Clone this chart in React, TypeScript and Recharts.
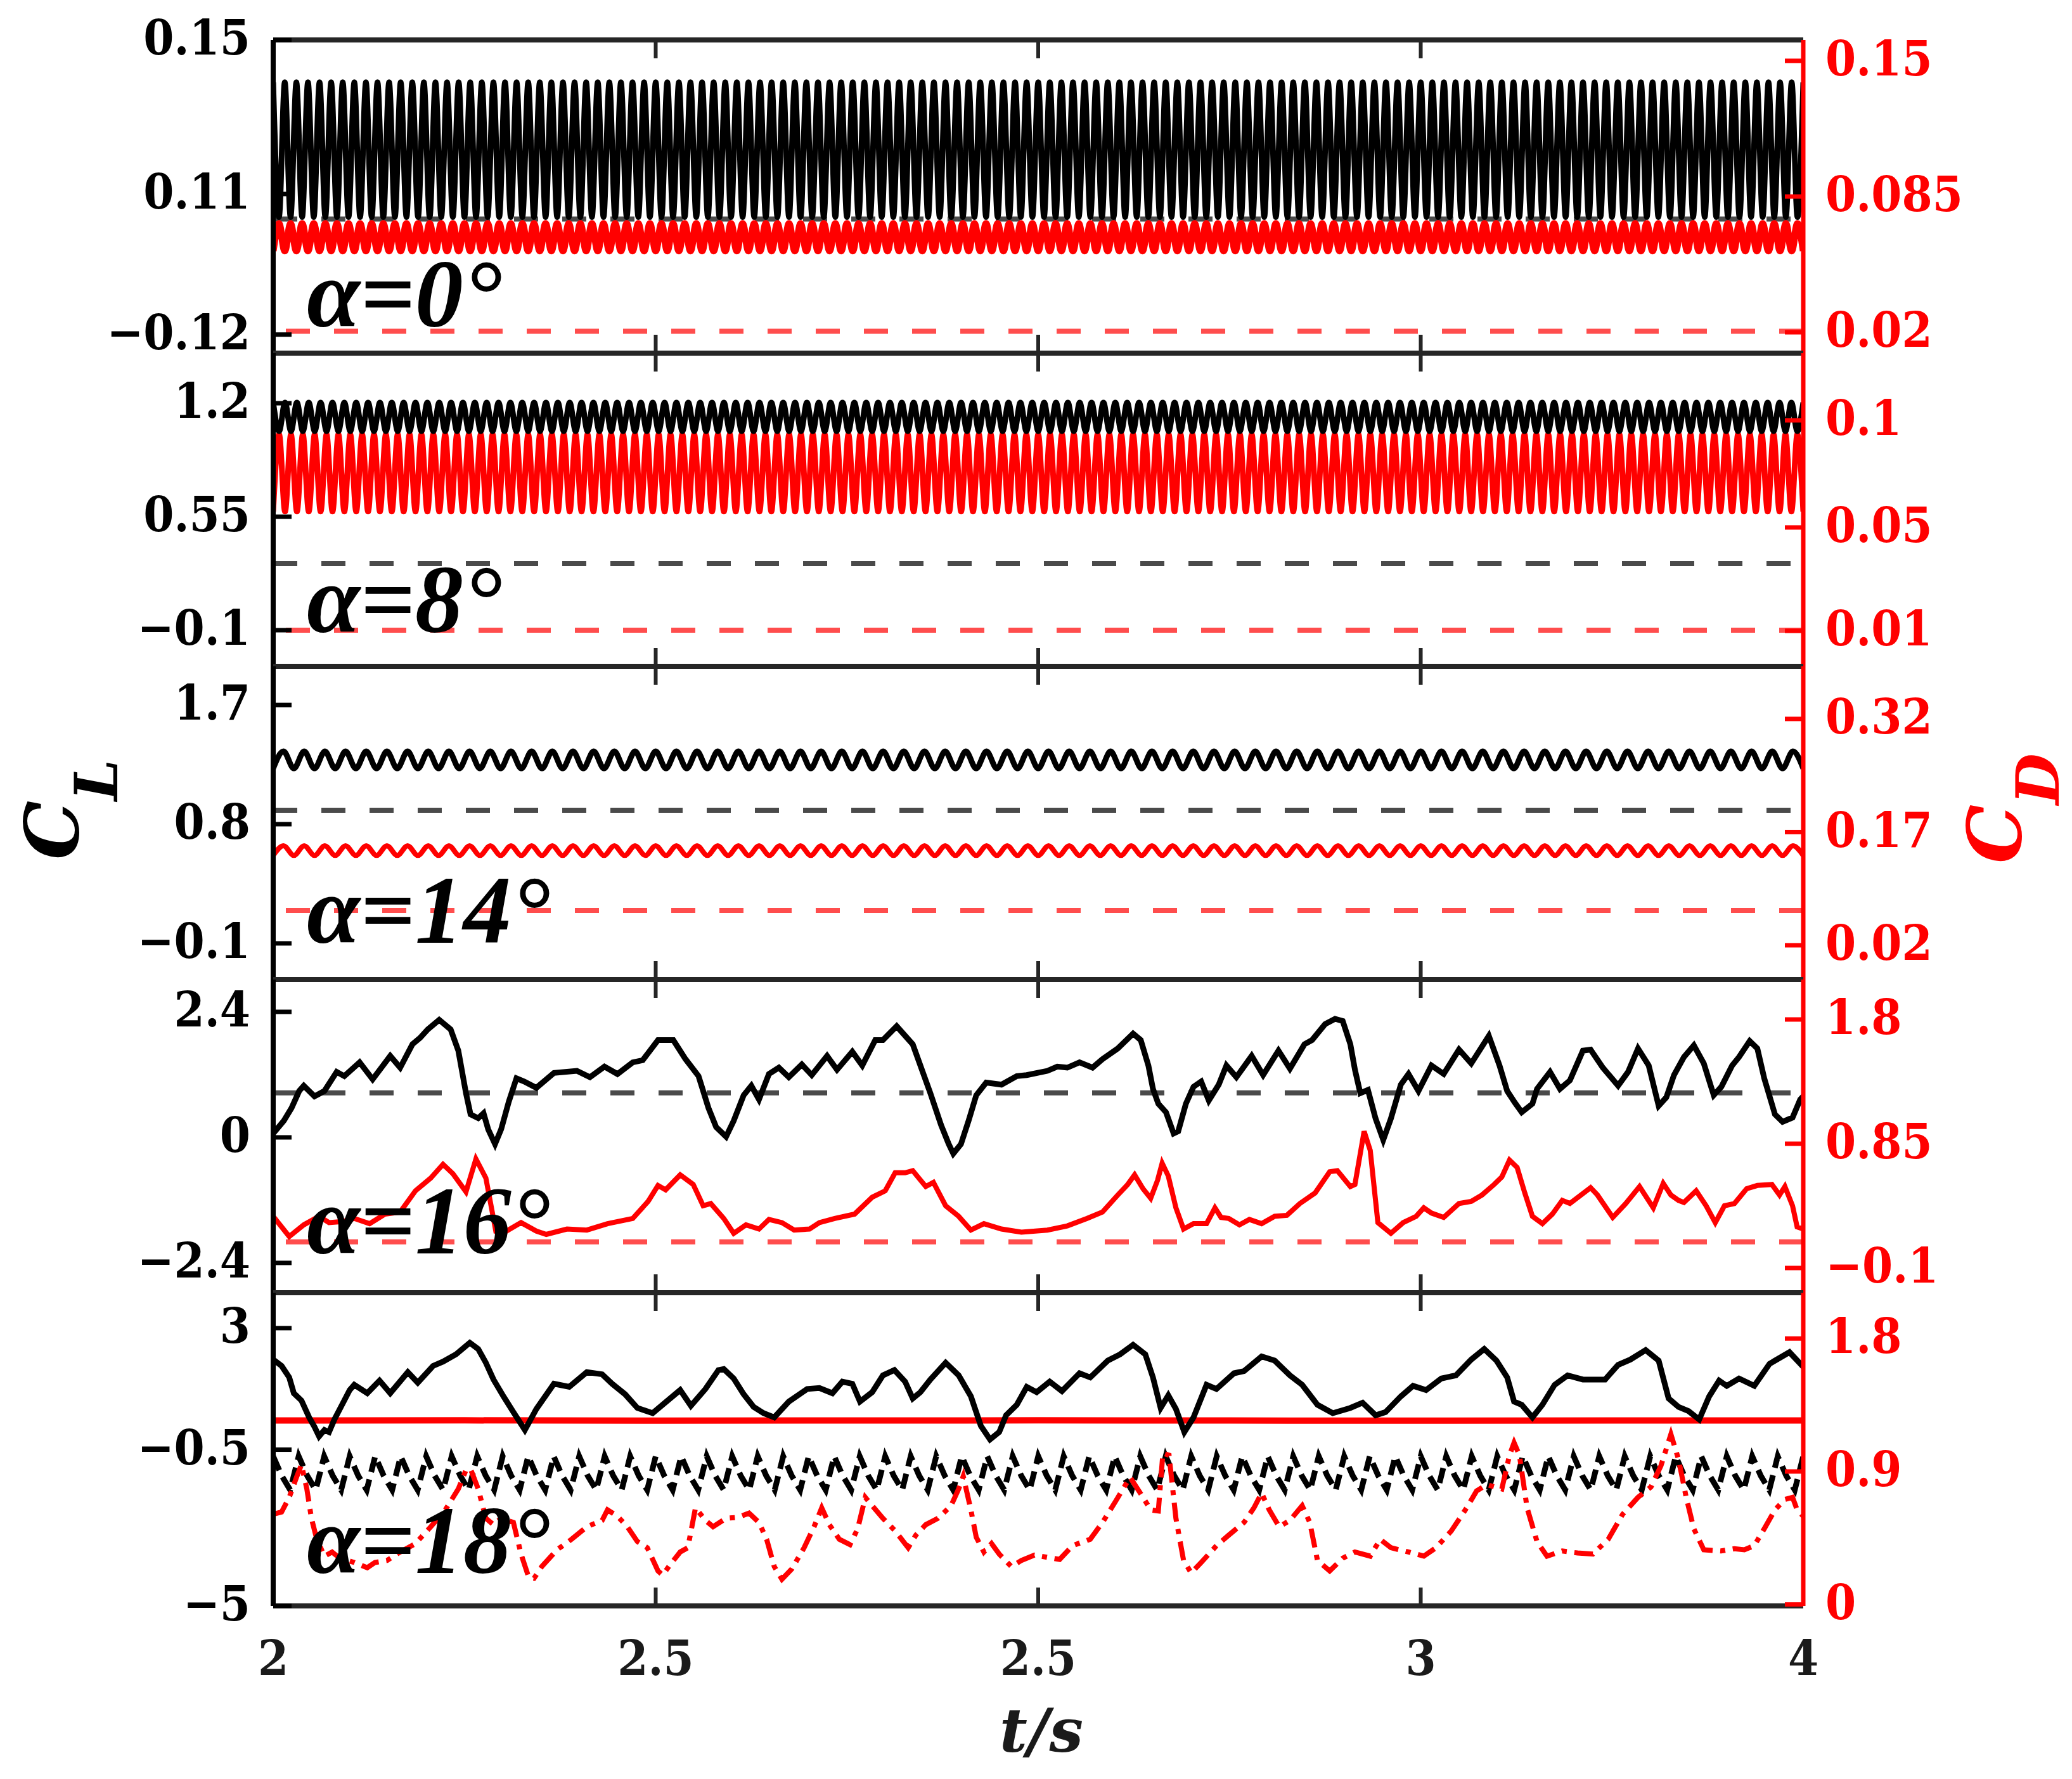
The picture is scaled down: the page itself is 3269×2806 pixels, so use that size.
import React from 'react';
import { LineChart, Line, XAxis, YAxis, ReferenceLine } from 'recharts';

// ---------------- shared x axis ----------------
const xDomain = [2, 4];
const xTicks = [2, 2.5, 3, 3.5, 4];
const xTickLabels = ['2', '2.5', '2.5', '3', '4'];

// ---------------- panel 1 : alpha = 0 ----------------
const p1LeftDomain = [0.06868, 0.15];
const p1LeftTicks = [0.15, 0.11, 0.0735];
const p1LeftLabels = ['0.15', '0.11', '\u22120.12'];
const p1RightDomain = [0.01, 0.16];
const p1RightTicks = [0.15, 0.085, 0.02];
const p1RightLabels = ['0.15', '0.085', '0.02'];
const p1LiftRef = 0.1035;
const p1DragRef = 0.0205;
const p1Lift = [
0.139,0.104,0.139,0.104,0.139,0.104,0.139,0.104,0.139,0.104,0.139,0.104,0.139,0.104,0.139,0.104,0.139,0.104,0.139,0.104,
0.139,0.104,0.139,0.104,0.139,0.104,0.139,0.104,0.139,0.104,0.139,0.104,0.139,0.104,0.139,0.104,0.139,0.104,0.139,0.104,
0.139,0.104,0.139,0.104,0.139,0.104,0.139,0.104,0.139,0.104,0.139,0.104,0.139,0.104,0.139,0.104,0.139,0.104,0.139,0.104,
0.139,0.104,0.139,0.104,0.139,0.104,0.139,0.104,0.139,0.104,0.139,0.104,0.139,0.104,0.139,0.104,0.139,0.104,0.139,0.104,
0.139,0.104,0.139,0.104,0.139,0.104,0.139,0.104,0.139,0.104,0.139,0.104,0.139,0.104,0.139,0.104,0.139,0.104,0.139,0.104,
0.139,0.104,0.139,0.104,0.139,0.104,0.139,0.104,0.139,0.104,0.139,0.104,0.139,0.104,0.139,0.104,0.139,0.104,0.139,0.104,
0.139,0.104,0.139,0.104,0.139,0.104,0.139,0.104,0.139,0.104,0.139,0.104,0.139,0.104,0.139,0.104,0.139,0.104,0.139,0.104,
0.139,0.104,0.139,0.104,0.139,0.104,0.139,0.104,0.139,0.104,0.139,0.104,0.139,0.104,0.139,0.104,0.139,0.104,0.139,0.104,
0.139,0.104,0.139,0.104,0.139,0.104,0.139,0.104,0.139,0.104,0.139,0.104,0.139,0.104,0.139,0.104,0.139,0.104,0.139,0.104,
0.139,0.104,0.139,0.104,0.139,0.104,0.139,0.104,0.139,0.104,0.139,0.104,0.139,0.104,0.139,0.104,0.139,0.104,0.139,0.104,
0.139,0.104,0.139,0.104,0.139,0.104,0.139,0.104,0.139,0.104,0.139,0.104,0.139,0.104,0.139,0.104,0.139,0.104,0.139,0.104,
0.139,0.104,0.139,0.104,0.139,0.104,0.139,0.104,0.139,0.104,0.139,0.104,0.139,0.104,0.139,0.104,0.139,0.104,0.139,0.104,
0.139,0.104,0.139,0.104,0.139,0.104,0.139,0.104,0.139,0.104,0.139,0.104,0.139,0.104,0.139,0.104,0.139,0.104,0.139,0.104,
0.139,0.104,0.139,0.104,0.139
];
const p1Drag = [
0.059,0.072,0.059,0.072,0.059,0.072,0.059,0.072,0.059,0.072,0.059,0.072,0.059,0.072,0.059,0.072,0.059,0.072,0.059,0.072,
0.059,0.072,0.059,0.072,0.059,0.072,0.059,0.072,0.059,0.072,0.059,0.072,0.059,0.072,0.059,0.072,0.059,0.072,0.059,0.072,
0.059,0.072,0.059,0.072,0.059,0.072,0.059,0.072,0.059,0.072,0.059,0.072,0.059,0.072,0.059,0.072,0.059,0.072,0.059,0.072,
0.059,0.072,0.059,0.072,0.059,0.072,0.059,0.072,0.059,0.072,0.059,0.072,0.059,0.072,0.059,0.072,0.059,0.072,0.059,0.072,
0.059,0.072,0.059,0.072,0.059,0.072,0.059,0.072,0.059,0.072,0.059,0.072,0.059,0.072,0.059,0.072,0.059,0.072,0.059,0.072,
0.059,0.072,0.059,0.072,0.059,0.072,0.059,0.072,0.059,0.072,0.059,0.072,0.059,0.072,0.059,0.072,0.059,0.072,0.059,0.072,
0.059,0.072,0.059,0.072,0.059,0.072,0.059,0.072,0.059,0.072,0.059,0.072,0.059,0.072,0.059,0.072,0.059,0.072,0.059,0.072,
0.059,0.072,0.059,0.072,0.059,0.072,0.059,0.072,0.059,0.072,0.059,0.072,0.059,0.072,0.059,0.072,0.059,0.072,0.059,0.072,
0.059,0.072,0.059,0.072,0.059,0.072,0.059,0.072,0.059,0.072,0.059,0.072,0.059,0.072,0.059,0.072,0.059,0.072,0.059,0.072,
0.059,0.072,0.059,0.072,0.059,0.072,0.059,0.072,0.059,0.072,0.059,0.072,0.059,0.072,0.059,0.072,0.059,0.072,0.059,0.072,
0.059,0.072,0.059,0.072,0.059,0.072,0.059,0.072,0.059,0.072,0.059,0.072,0.059,0.072,0.059,0.072,0.059,0.072,0.059,0.072,
0.059,0.072,0.059,0.072,0.059,0.072,0.059,0.072,0.059,0.072,0.059,0.072,0.059,0.072,0.059,0.072,0.059,0.072,0.059,0.072,
0.059,0.072,0.059,0.072,0.059,0.072,0.059,0.072,0.059,0.072,0.059,0.072,0.059,0.072,0.059,0.072,0.059,0.072,0.059,0.072,
0.059,0.072,0.059,0.072,0.059
];

// ---------------- panel 2 : alpha = 8 ----------------
const p2LeftDomain = [-0.307, 1.487];
const p2LeftTicks = [1.2, 0.55, -0.1];
const p2LeftLabels = ['1.2', '0.55', '\u22120.1'];
const p2RightDomain = [-0.00518, 0.12873];
const p2RightTicks = [0.1, 0.0542, 0.01];
const p2RightLabels = ['0.1', '0.05', '0.01'];
const p2LiftRef = 0.281;
const p2DragRef = 0.0103;
const p2Lift = [
1.204,1.04,1.204,1.04,1.204,1.04,1.204,1.04,1.204,1.04,1.204,1.04,1.204,1.04,1.204,1.04,1.204,1.04,1.204,1.04,
1.204,1.04,1.204,1.04,1.204,1.04,1.204,1.04,1.204,1.04,1.204,1.04,1.204,1.04,1.204,1.04,1.204,1.04,1.204,1.04,
1.204,1.04,1.204,1.04,1.204,1.04,1.204,1.04,1.204,1.04,1.204,1.04,1.204,1.04,1.204,1.04,1.204,1.04,1.204,1.04,
1.204,1.04,1.204,1.04,1.204,1.04,1.204,1.04,1.204,1.04,1.204,1.04,1.204,1.04,1.204,1.04,1.204,1.04,1.204,1.04,
1.204,1.04,1.204,1.04,1.204,1.04,1.204,1.04,1.204,1.04,1.204,1.04,1.204,1.04,1.204,1.04,1.204,1.04,1.204,1.04,
1.204,1.04,1.204,1.04,1.204,1.04,1.204,1.04,1.204,1.04,1.204,1.04,1.204,1.04,1.204,1.04,1.204,1.04,1.204,1.04,
1.204,1.04,1.204,1.04,1.204,1.04,1.204,1.04,1.204,1.04,1.204,1.04,1.204,1.04,1.204,1.04,1.204,1.04,1.204,1.04,
1.204,1.04,1.204,1.04,1.204,1.04,1.204,1.04,1.204,1.04,1.204,1.04,1.204,1.04,1.204,1.04,1.204,1.04,1.204,1.04,
1.204,1.04,1.204,1.04,1.204,1.04,1.204,1.04,1.204,1.04,1.204,1.04,1.204,1.04,1.204,1.04,1.204,1.04,1.204,1.04,
1.204,1.04,1.204,1.04,1.204,1.04,1.204,1.04,1.204,1.04,1.204,1.04,1.204,1.04,1.204,1.04,1.204,1.04,1.204,1.04,
1.204,1.04,1.204,1.04,1.204,1.04,1.204,1.04,1.204,1.04,1.204,1.04,1.204,1.04,1.204,1.04,1.204,1.04,1.204,1.04,
1.204,1.04,1.204,1.04,1.204,1.04,1.204,1.04,1.204,1.04,1.204,1.04,1.204,1.04,1.204,1.04,1.204,1.04,1.204,1.04,
1.204,1.04,1.204,1.04,1.204,1.04,1.204,1.04,1.204,1.04,1.204,1.04,1.204,1.04,1.204,1.04,1.204,1.04,
1.204
];
const p2Drag = [
0.061,0.094,0.061,0.094,0.061,0.094,0.061,0.094,0.061,0.094,0.061,0.094,0.061,0.094,0.061,0.094,0.061,0.094,0.061,0.094,
0.061,0.094,0.061,0.094,0.061,0.094,0.061,0.094,0.061,0.094,0.061,0.094,0.061,0.094,0.061,0.094,0.061,0.094,0.061,0.094,
0.061,0.094,0.061,0.094,0.061,0.094,0.061,0.094,0.061,0.094,0.061,0.094,0.061,0.094,0.061,0.094,0.061,0.094,0.061,0.094,
0.061,0.094,0.061,0.094,0.061,0.094,0.061,0.094,0.061,0.094,0.061,0.094,0.061,0.094,0.061,0.094,0.061,0.094,0.061,0.094,
0.061,0.094,0.061,0.094,0.061,0.094,0.061,0.094,0.061,0.094,0.061,0.094,0.061,0.094,0.061,0.094,0.061,0.094,0.061,0.094,
0.061,0.094,0.061,0.094,0.061,0.094,0.061,0.094,0.061,0.094,0.061,0.094,0.061,0.094,0.061,0.094,0.061,0.094,0.061,0.094,
0.061,0.094,0.061,0.094,0.061,0.094,0.061,0.094,0.061,0.094,0.061,0.094,0.061,0.094,0.061,0.094,0.061,0.094,0.061,0.094,
0.061,0.094,0.061,0.094,0.061,0.094,0.061,0.094,0.061,0.094,0.061,0.094,0.061,0.094,0.061,0.094,0.061,0.094,0.061,0.094,
0.061,0.094,0.061,0.094,0.061,0.094,0.061,0.094,0.061,0.094,0.061,0.094,0.061,0.094,0.061,0.094,0.061,0.094,0.061,0.094,
0.061,0.094,0.061,0.094,0.061,0.094,0.061,0.094,0.061,0.094,0.061,0.094,0.061,0.094,0.061,0.094,0.061,0.094,0.061,0.094,
0.061,0.094,0.061,0.094,0.061,0.094,0.061,0.094,0.061,0.094,0.061,0.094,0.061,0.094,0.061,0.094,0.061,0.094,0.061,0.094,
0.061,0.094,0.061,0.094,0.061,0.094,0.061,0.094,0.061,0.094,0.061,0.094,0.061,0.094,0.061,0.094,0.061,0.094,0.061,0.094,
0.061,0.094,0.061,0.094,0.061,0.094,0.061,0.094,0.061,0.094,0.061,0.094,0.061,0.094,0.061,0.094,0.061,0.094,
0.061
];

// ---------------- panel 3 : alpha = 14 ----------------
const p3LeftDomain = [-0.373, 1.992];
const p3LeftTicks = [1.7, 0.8, -0.1];
const p3LeftLabels = ['1.7', '0.8', '\u22120.1'];
const p3RightDomain = [-0.0254, 0.3897];
const p3RightTicks = [0.32, 0.17, 0.02];
const p3RightLabels = ['0.32', '0.17', '0.02'];
const p3LiftRef = 0.905;
const p3DragRef = 0.0662;
const p3Lift = [
1.221,1.35,1.221,1.35,1.221,1.35,1.221,1.35,1.221,1.35,1.221,1.35,1.221,1.35,1.221,1.35,1.221,1.35,1.221,1.35,
1.221,1.35,1.221,1.35,1.221,1.35,1.221,1.35,1.221,1.35,1.221,1.35,1.221,1.35,1.221,1.35,1.221,1.35,1.221,1.35,
1.221,1.35,1.221,1.35,1.221,1.35,1.221,1.35,1.221,1.35,1.221,1.35,1.221,1.35,1.221,1.35,1.221,1.35,1.221,1.35,
1.221,1.35,1.221,1.35,1.221,1.35,1.221,1.35,1.221,1.35,1.221,1.35,1.221,1.35,1.221,1.35,1.221,1.35,1.221,1.35,
1.221,1.35,1.221,1.35,1.221,1.35,1.221,1.35,1.221,1.35,1.221,1.35,1.221,1.35,1.221,1.35,1.221,1.35,1.221,1.35,
1.221,1.35,1.221,1.35,1.221,1.35,1.221,1.35,1.221,1.35,1.221,1.35,1.221,1.35,1.221,1.35,1.221,1.35,1.221,1.35,
1.221,1.35,1.221,1.35,1.221,1.35,1.221,1.35,1.221,1.35,1.221,1.35,1.221,1.35,1.221,1.35,1.221,1.35,1.221,1.35,
1.221,1.35,1.221,1.35,1.221,1.35,1.221,1.35,1.221
];
const p3Drag = [
0.139,0.152,0.139,0.152,0.139,0.152,0.139,0.152,0.139,0.152,0.139,0.152,0.139,0.152,0.139,0.152,0.139,0.152,0.139,0.152,
0.139,0.152,0.139,0.152,0.139,0.152,0.139,0.152,0.139,0.152,0.139,0.152,0.139,0.152,0.139,0.152,0.139,0.152,0.139,0.152,
0.139,0.152,0.139,0.152,0.139,0.152,0.139,0.152,0.139,0.152,0.139,0.152,0.139,0.152,0.139,0.152,0.139,0.152,0.139,0.152,
0.139,0.152,0.139,0.152,0.139,0.152,0.139,0.152,0.139,0.152,0.139,0.152,0.139,0.152,0.139,0.152,0.139,0.152,0.139,0.152,
0.139,0.152,0.139,0.152,0.139,0.152,0.139,0.152,0.139,0.152,0.139,0.152,0.139,0.152,0.139,0.152,0.139,0.152,0.139,0.152,
0.139,0.152,0.139,0.152,0.139,0.152,0.139,0.152,0.139,0.152,0.139,0.152,0.139,0.152,0.139,0.152,0.139,0.152,0.139,0.152,
0.139,0.152,0.139,0.152,0.139,0.152,0.139,0.152,0.139,0.152,0.139,0.152,0.139,0.152,0.139,0.152,0.139,0.152,0.139,0.152,
0.139,0.152,0.139,0.152,0.139,0.152,0.139,0.152,0.139
];

// ---------------- panel 4 : alpha = 16 ----------------
const p4LeftDomain = [-2.97, 3.018];
const p4LeftTicks = [2.4, 0, -2.4];
const p4LeftLabels = ['2.4', '0', '\u22122.4'];
const p4RightDomain = [-0.289, 2.1054];
const p4RightTicks = [1.8, 0.85, -0.1];
const p4RightLabels = ['1.8', '0.85', '\u22120.1'];
const p4LiftRef = 0.85;
const p4DragRef = 0.1;
// [t, CL]
const p4Lift = [
[2.000,0.075],[2.014,0.319],[2.024,0.562],[2.034,0.887],[2.040,0.988],[2.054,0.785],[2.067,0.887],[2.083,1.252],[2.093,1.171],[2.113,1.435],
[2.130,1.110],[2.153,1.557],[2.166,1.333],[2.182,1.780],[2.192,1.902],[2.202,2.064],[2.217,2.247],[2.232,2.064],[2.242,1.658],[2.252,0.846],
[2.258,0.440],[2.268,0.367],[2.275,0.461],[2.281,0.156],[2.290,-0.128],[2.298,0.156],[2.308,0.684],[2.318,1.130],[2.328,1.069],[2.344,0.948],
[2.367,1.232],[2.397,1.272],[2.414,1.151],[2.433,1.354],[2.450,1.212],[2.470,1.435],[2.483,1.475],[2.503,1.861],[2.523,1.861],[2.539,1.496],
[2.556,1.171],[2.569,0.562],[2.579,0.197],[2.592,0.014],[2.602,0.319],[2.615,0.806],[2.625,0.988],[2.635,0.724],[2.648,1.212],[2.661,1.333],
[2.674,1.151],[2.691,1.394],[2.704,1.191],[2.724,1.557],[2.737,1.293],[2.757,1.638],[2.770,1.374],[2.787,1.861],[2.797,1.861],[2.815,2.125],
[2.836,1.780],[2.849,1.252],[2.859,0.846],[2.873,0.237],[2.883,-0.128],[2.889,-0.311],[2.899,-0.128],[2.909,0.319],[2.919,0.806],[2.932,1.049],
[2.952,1.009],[2.972,1.171],[2.985,1.191],[3.012,1.272],[3.025,1.354],[3.038,1.333],[3.054,1.435],[3.071,1.333],[3.084,1.496],[3.104,1.699],
[3.124,1.983],[3.134,1.861],[3.144,1.374],[3.150,0.927],[3.157,0.643],[3.167,0.481],[3.177,0.075],[3.183,0.116],[3.193,0.643],[3.203,0.968],
[3.213,1.069],[3.223,0.704],[3.236,1.009],[3.246,1.374],[3.259,1.151],[3.279,1.557],[3.294,1.191],[3.314,1.658],[3.329,1.313],[3.348,1.780],
[3.358,1.861],[3.375,2.166],[3.388,2.267],[3.398,2.226],[3.408,1.780],[3.414,1.293],[3.421,0.846],[3.431,0.907],[3.441,0.359],[3.451,-0.047],
[3.461,0.359],[3.474,1.009],[3.484,1.212],[3.497,0.887],[3.514,1.374],[3.530,1.212],[3.550,1.678],[3.566,1.414],[3.589,1.942],[3.603,1.374],
[3.613,0.887],[3.623,0.664],[3.632,0.481],[3.646,0.643],[3.652,0.927],[3.669,1.252],[3.682,0.927],[3.695,1.090],[3.712,1.658],[3.722,1.678],
[3.738,1.333],[3.758,0.988],[3.771,1.252],[3.784,1.699],[3.798,1.374],[3.811,0.603],[3.821,0.765],[3.831,1.191],[3.844,1.536],[3.857,1.760],
[3.870,1.414],[3.883,0.806],[3.893,0.968],[3.907,1.374],[3.916,1.536],[3.930,1.841],[3.940,1.699],[3.949,1.130],[3.963,0.440],[3.973,0.298],
[3.986,0.379],[3.996,0.724],[4.000,0.785]
];
// [t, CD]
const p4Drag = [
[2.000,0.295],[2.021,0.141],[2.040,0.230],[2.060,0.295],[2.073,0.247],[2.090,0.255],[2.106,0.279],[2.126,0.239],[2.146,0.312],[2.166,0.328],
[2.186,0.490],[2.206,0.588],[2.222,0.693],[2.235,0.620],[2.252,0.482],[2.265,0.734],[2.278,0.588],[2.291,0.182],[2.305,0.182],[2.324,0.247],
[2.344,0.182],[2.357,0.157],[2.384,0.198],[2.410,0.190],[2.437,0.239],[2.470,0.279],[2.490,0.409],[2.503,0.531],[2.513,0.498],[2.532,0.612],
[2.549,0.539],[2.562,0.376],[2.572,0.393],[2.589,0.279],[2.602,0.165],[2.618,0.230],[2.635,0.198],[2.648,0.271],[2.665,0.247],[2.681,0.190],
[2.701,0.198],[2.714,0.247],[2.734,0.279],[2.760,0.312],[2.783,0.441],[2.800,0.490],[2.813,0.628],[2.826,0.628],[2.836,0.644],[2.853,0.523],
[2.863,0.555],[2.879,0.376],[2.896,0.295],[2.912,0.190],[2.929,0.239],[2.952,0.198],[2.978,0.174],[3.012,0.190],[3.038,0.222],[3.064,0.279],
[3.084,0.328],[3.104,0.458],[3.117,0.539],[3.126,0.612],[3.137,0.506],[3.147,0.433],[3.156,0.571],[3.162,0.701],[3.170,0.604],[3.180,0.360],
[3.190,0.198],[3.203,0.239],[3.220,0.239],[3.231,0.360],[3.239,0.287],[3.249,0.279],[3.263,0.230],[3.276,0.271],[3.292,0.239],[3.309,0.295],
[3.325,0.303],[3.342,0.393],[3.362,0.474],[3.381,0.636],[3.391,0.644],[3.408,0.523],[3.414,0.539],[3.426,0.945],[3.434,0.799],[3.444,0.247],
[3.461,0.165],[3.477,0.247],[3.494,0.295],[3.504,0.360],[3.514,0.320],[3.530,0.287],[3.550,0.393],[3.566,0.409],[3.580,0.458],[3.596,0.539],
[3.606,0.596],[3.616,0.725],[3.626,0.669],[3.636,0.474],[3.646,0.295],[3.659,0.239],[3.672,0.312],[3.685,0.417],[3.695,0.393],[3.722,0.514],
[3.731,0.458],[3.751,0.287],[3.768,0.393],[3.786,0.523],[3.804,0.360],[3.817,0.547],[3.827,0.458],[3.837,0.417],[3.844,0.401],[3.860,0.490],
[3.873,0.376],[3.885,0.247],[3.897,0.376],[3.910,0.393],[3.926,0.506],[3.940,0.531],[3.959,0.539],[3.969,0.458],[3.976,0.523],[3.986,0.376],
[3.992,0.214],[4.000,0.198]
];

// ---------------- panel 5 : alpha = 18 ----------------
const p5LeftDomain = [-5, 4.02];
const p5LeftTicks = [3, -0.5, -5];
const p5LeftLabels = ['3', '\u22120.5', '\u22125'];
const p5RightDomain = [-0.01, 2.11];
const p5RightTicks = [1.8, 0.9, 0];
const p5RightLabels = ['1.8', '0.9', '0'];
// [t, CL] solid black
const p5Lift = [
[2.000,2.095],[2.011,1.913],[2.021,1.580],[2.027,1.126],[2.037,0.914],[2.047,0.430],[2.054,0.157],[2.060,-0.116],[2.067,0.066],[2.073,0.006],
[2.080,0.369],[2.090,0.793],[2.100,1.217],[2.106,1.368],[2.123,1.126],[2.139,1.489],[2.153,1.126],[2.176,1.732],[2.189,1.429],[2.209,1.913],
[2.222,2.034],[2.239,2.246],[2.257,2.579],[2.268,2.398],[2.278,2.004],[2.288,1.520],[2.301,1.035],[2.314,0.581],[2.329,0.066],[2.344,0.672],
[2.367,1.398],[2.387,1.308],[2.410,1.732],[2.430,1.671],[2.443,1.398],[2.460,1.096],[2.476,0.702],[2.496,0.551],[2.509,0.793],[2.532,1.217],
[2.546,0.763],[2.565,1.247],[2.582,1.792],[2.589,1.822],[2.602,1.550],[2.615,1.096],[2.628,0.732],[2.641,0.551],[2.655,0.430],[2.674,0.884],
[2.698,1.247],[2.714,1.277],[2.731,1.126],[2.744,1.459],[2.757,1.398],[2.767,0.884],[2.783,1.156],[2.797,1.641],[2.812,1.792],[2.826,1.459],
[2.836,0.975],[2.846,1.156],[2.859,1.520],[2.879,2.004],[2.896,1.641],[2.912,1.035],[2.925,0.187],[2.937,-0.206],[2.949,0.006],[2.958,0.490],
[2.972,0.793],[2.985,1.308],[2.998,1.156],[3.015,1.459],[3.031,1.187],[3.054,1.701],[3.068,1.580],[3.091,2.065],[3.107,2.246],[3.124,2.519],
[3.140,2.246],[3.150,1.580],[3.160,0.702],[3.170,1.065],[3.180,0.672],[3.191,0.006],[3.203,0.430],[3.220,1.368],[3.233,1.247],[3.256,1.701],
[3.269,1.762],[3.292,2.186],[3.309,2.065],[3.329,1.641],[3.345,1.368],[3.365,0.793],[3.385,0.551],[3.408,0.702],[3.424,0.853],[3.441,0.490],
[3.454,0.581],[3.474,1.035],[3.490,1.338],[3.507,1.217],[3.527,1.550],[3.546,1.641],[3.566,2.095],[3.583,2.398],[3.599,2.065],[3.613,1.580],
[3.622,0.884],[3.632,0.793],[3.646,0.430],[3.659,0.793],[3.675,1.368],[3.692,1.641],[3.712,1.520],[3.741,1.520],[3.758,1.943],[3.774,2.095],
[3.794,2.367],[3.811,2.065],[3.824,0.975],[3.837,0.732],[3.850,0.611],[3.864,0.369],[3.877,1.035],[3.890,1.489],[3.900,1.338],[3.916,1.550],
[3.936,1.338],[3.956,1.974],[3.982,2.307],[4.000,1.883]
];
// [t, CD] solid red (nearly constant)
const p5Drag = [
[2.0,1.245],[2.25,1.246],[2.5,1.244],[2.75,1.245],[3.0,1.246],[3.25,1.245],[3.5,1.244],[3.75,1.245],[4.0,1.245]
];
// CL dashed black, uniformly sampled: peak, shoulder, trough per cycle
const p5LiftDashed = [
-0.69,-1.25,-1.66,-0.69,-1.25,-1.66,-0.69,-1.25,-1.66,-0.69,-1.25,-1.66,-0.69,-1.25,-1.66,-0.69,-1.25,-1.66,-0.69,-1.25,-1.66,-0.69,-1.25,-1.66,-0.69,-1.25,-1.66,-0.69,-1.25,-1.66,
-0.69,-1.25,-1.66,-0.69,-1.25,-1.66,-0.69,-1.25,-1.66,-0.69,-1.25,-1.66,-0.69,-1.25,-1.66,-0.69,-1.25,-1.66,-0.69,-1.25,-1.66,-0.69,-1.25,-1.66,-0.69,-1.25,-1.66,-0.69,-1.25,-1.66,
-0.69,-1.25,-1.66,-0.69,-1.25,-1.66,-0.69,-1.25,-1.66,-0.69,-1.25,-1.66,-0.69,-1.25,-1.66,-0.69,-1.25,-1.66,-0.69,-1.25,-1.66,-0.69,-1.25,-1.66,-0.69,-1.25,-1.66,-0.69,-1.25,-1.66,
-0.69,-1.25,-1.66,-0.69,-1.25,-1.66,-0.69,-1.25,-1.66,-0.69,-1.25,-1.66,-0.69,-1.25,-1.66,-0.69,-1.25,-1.66,-0.69,-1.25,-1.66,-0.69,-1.25,-1.66,-0.69,-1.25,-1.66,-0.69,-1.25,-1.66,
-0.69,-1.25,-1.66,-0.69,-1.25,-1.66,-0.69,-1.25,-1.66,-0.69,-1.25,-1.66,-0.69,-1.25,-1.66,-0.69,-1.25,-1.66,-0.69,-1.25,-1.66,-0.69,-1.25,-1.66,-0.69,-1.25,-1.66,-0.69,-1.25,-1.66,
-0.69,-1.25,-1.66,-0.69,-1.25,-1.66,-0.69,-1.25,-1.66,-0.69,-1.25,-1.66,-0.69,-1.25,-1.66,-0.69,-1.25,-1.66,-0.69,-1.25,-1.66,-0.69,-1.25,-1.66,-0.69,-1.25,-1.66,-0.69,-1.25,-1.66,
-0.69
];
// [t, CD] dash-dot red
const p5DragDashed = [
[2.000,0.611],[2.011,0.626],[2.021,0.725],[2.031,0.868],[2.037,0.946],[2.044,0.782],[2.050,0.583],[2.057,0.441],[2.067,0.327],[2.077,0.355],
[2.087,0.313],[2.097,0.298],[2.106,0.284],[2.123,0.249],[2.133,0.284],[2.149,0.298],[2.166,0.355],[2.186,0.412],[2.206,0.526],[2.225,0.640],
[2.242,0.782],[2.252,0.910],[2.258,0.917],[2.268,0.782],[2.278,0.583],[2.288,0.540],[2.298,0.583],[2.314,0.555],[2.324,0.341],[2.334,0.184],
[2.341,0.177],[2.351,0.256],[2.371,0.370],[2.390,0.441],[2.410,0.526],[2.430,0.569],[2.437,0.640],[2.450,0.597],[2.463,0.526],[2.476,0.426],
[2.489,0.384],[2.503,0.227],[2.509,0.199],[2.519,0.270],[2.532,0.355],[2.542,0.384],[2.552,0.654],[2.565,0.569],[2.575,0.526],[2.592,0.583],
[2.608,0.590],[2.622,0.618],[2.635,0.555],[2.645,0.441],[2.655,0.256],[2.665,0.170],[2.678,0.241],[2.694,0.384],[2.707,0.526],[2.717,0.654],
[2.727,0.540],[2.740,0.441],[2.754,0.405],[2.764,0.512],[2.774,0.725],[2.783,0.668],[2.797,0.583],[2.813,0.498],[2.830,0.384],[2.840,0.469],
[2.853,0.540],[2.869,0.583],[2.886,0.668],[2.896,0.782],[2.902,0.868],[2.912,0.640],[2.919,0.455],[2.929,0.355],[2.939,0.412],[2.949,0.341],
[2.965,0.256],[2.978,0.298],[2.995,0.334],[3.028,0.305],[3.045,0.398],[3.068,0.441],[3.084,0.555],[3.101,0.697],[3.120,0.861],[3.137,0.725],
[3.147,0.640],[3.157,0.633],[3.163,1.024],[3.171,1.010],[3.180,0.583],[3.190,0.298],[3.200,0.213],[3.213,0.284],[3.233,0.398],[3.249,0.469],
[3.269,0.555],[3.282,0.654],[3.292,0.754],[3.302,0.640],[3.315,0.526],[3.329,0.569],[3.345,0.668],[3.355,0.555],[3.365,0.298],[3.381,0.227],
[3.398,0.313],[3.414,0.355],[3.434,0.327],[3.447,0.441],[3.461,0.384],[3.484,0.355],[3.504,0.327],[3.520,0.384],[3.540,0.498],[3.560,0.654],
[3.573,0.768],[3.586,0.811],[3.606,0.782],[3.616,1.010],[3.622,1.095],[3.629,1.010],[3.639,0.654],[3.652,0.426],[3.665,0.327],[3.685,0.362],
[3.705,0.348],[3.725,0.341],[3.745,0.441],[3.764,0.611],[3.784,0.725],[3.801,0.796],[3.814,0.939],[3.827,1.152],[3.837,0.982],[3.847,0.725],
[3.857,0.512],[3.870,0.370],[3.893,0.362],[3.910,0.377],[3.923,0.370],[3.936,0.398],[3.949,0.512],[3.963,0.640],[3.976,0.711],[3.986,0.725],
[3.992,0.640],[4.000,0.597]
];

const alphaLabels = ['\u03b1=0\u00b0', '\u03b1=8\u00b0', '\u03b1=14\u00b0', '\u03b1=16\u00b0', '\u03b1=18\u00b0'];

// ---------------- layout & style ----------------
const W = 3269;
const H = 2806;
const PLOT_L = 431;
const PLOT_R = 2845;
const PANEL_TOPS = [63, 557, 1051, 1545, 2039];
const PANEL_H = 494;
const ALPHA_BASELINES = [515, 997, 1487, 1977, 2481];
const FRAME = '#262626';
const BLACK = '#000000';
const RED = '#ff0000';
const GRAY_DASH = '#4a4a4a';
const RED_DASH = '#ff4d4d';
const NUM_FONT = "'DejaVu Serif Condensed', 'DejaVu Serif', serif";
const ALPHA_FONT = "'Liberation Serif', 'Times New Roman', serif";
const LABEL_FONT = "'DejaVu Serif', serif";
const TICK_LEN = 29;
const NUM_SIZE = 77;

const uniform = (vals: number[]) => vals.map((v, i) => ({ t: xDomain[0] + ((xDomain[1] - xDomain[0]) * i) / (vals.length - 1), v }));
const pairs = (pts: number[][]) => pts.map(([t, v]) => ({ t, v }));

const makeLeftTick = (ticks: number[], labels: string[]) => (props: any) => {
  const { x, y, payload } = props;
  const i = ticks.indexOf(payload.value);
  return (
    <g>
      <line x1={x} x2={x + TICK_LEN} y1={y} y2={y} stroke={BLACK} strokeWidth={7} />
      <text x={x - 36} y={y} dy="0.3em" textAnchor="end" fontFamily={NUM_FONT} fontStretch="condensed" fontWeight="bold" fontSize={NUM_SIZE} fill={BLACK}>
        {labels[i]}
      </text>
    </g>
  );
};

const makeRightTick = (ticks: number[], labels: string[]) => (props: any) => {
  const { x, y, payload } = props;
  const i = ticks.indexOf(payload.value);
  return (
    <g>
      <line x1={x} x2={x - TICK_LEN} y1={y} y2={y} stroke={RED} strokeWidth={7} />
      <text x={x + 35} y={y} dy="0.3em" textAnchor="start" fontFamily={NUM_FONT} fontStretch="condensed" fontWeight="bold" fontSize={NUM_SIZE} fill={RED}>
        {labels[i]}
      </text>
    </g>
  );
};

const makeBottomTick = (showLabel: boolean) => (props: any) => {
  const { x, y, payload } = props;
  const i = xTicks.indexOf(payload.value);
  const inner = payload.value !== xDomain[0] && payload.value !== xDomain[1];
  return (
    <g>
      {inner && <line x1={x} x2={x} y1={y} y2={y - TICK_LEN} stroke={FRAME} strokeWidth={6} />}
      {showLabel && (
        <text x={x} y={y + 109} textAnchor="middle" fontFamily={NUM_FONT} fontStretch="condensed" fontWeight="bold" fontSize={NUM_SIZE} fill="#1a1a1a">
          {xTickLabels[i]}
        </text>
      )}
    </g>
  );
};

const TopTick = (props: any) => {
  const { x, y, payload } = props;
  const inner = payload.value !== xDomain[0] && payload.value !== xDomain[1];
  return <g>{inner && <line x1={x} x2={x} y1={y} y2={y + TICK_LEN} stroke={FRAME} strokeWidth={6} />}</g>;
};

type Series = { axis: string; data: any[]; color: string; width: number; dash?: string; curve: any };
type Ref = { axis: string; y: number; color: string };
type PanelCfg = {
  leftDomain: number[]; rightDomain: number[];
  leftTicks: number[]; leftLabels: string[];
  rightTicks: number[]; rightLabels: string[];
  refs: Ref[]; series: Series[];
};

const panels: PanelCfg[] = [
  {
    leftDomain: p1LeftDomain, rightDomain: p1RightDomain,
    leftTicks: p1LeftTicks, leftLabels: p1LeftLabels, rightTicks: p1RightTicks, rightLabels: p1RightLabels,
    refs: [{ axis: 'L', y: p1LiftRef, color: GRAY_DASH }, { axis: 'R', y: p1DragRef, color: RED_DASH }],
    series: [
      { axis: 'L', data: uniform(p1Lift), color: BLACK, width: 9, curve: 'monotone' },
      { axis: 'R', data: uniform(p1Drag), color: RED, width: 11, curve: 'monotone' },
    ],
  },
  {
    leftDomain: p2LeftDomain, rightDomain: p2RightDomain,
    leftTicks: p2LeftTicks, leftLabels: p2LeftLabels, rightTicks: p2RightTicks, rightLabels: p2RightLabels,
    refs: [{ axis: 'L', y: p2LiftRef, color: GRAY_DASH }, { axis: 'R', y: p2DragRef, color: RED_DASH }],
    series: [
      { axis: 'R', data: uniform(p2Drag), color: RED, width: 9, curve: 'monotone' },
      { axis: 'L', data: uniform(p2Lift), color: BLACK, width: 9, curve: 'monotone' },
    ],
  },
  {
    leftDomain: p3LeftDomain, rightDomain: p3RightDomain,
    leftTicks: p3LeftTicks, leftLabels: p3LeftLabels, rightTicks: p3RightTicks, rightLabels: p3RightLabels,
    refs: [{ axis: 'L', y: p3LiftRef, color: GRAY_DASH }, { axis: 'R', y: p3DragRef, color: RED_DASH }],
    series: [
      { axis: 'L', data: uniform(p3Lift), color: BLACK, width: 9, curve: 'monotone' },
      { axis: 'R', data: uniform(p3Drag), color: RED, width: 8, curve: 'monotone' },
    ],
  },
  {
    leftDomain: p4LeftDomain, rightDomain: p4RightDomain,
    leftTicks: p4LeftTicks, leftLabels: p4LeftLabels, rightTicks: p4RightTicks, rightLabels: p4RightLabels,
    refs: [{ axis: 'L', y: p4LiftRef, color: GRAY_DASH }, { axis: 'R', y: p4DragRef, color: RED_DASH }],
    series: [
      { axis: 'L', data: pairs(p4Lift), color: BLACK, width: 9, curve: 'linear' },
      { axis: 'R', data: pairs(p4Drag), color: RED, width: 8, curve: 'linear' },
    ],
  },
  {
    leftDomain: p5LeftDomain, rightDomain: p5RightDomain,
    leftTicks: p5LeftTicks, leftLabels: p5LeftLabels, rightTicks: p5RightTicks, rightLabels: p5RightLabels,
    refs: [],
    series: [
      { axis: 'R', data: pairs(p5Drag), color: RED, width: 10, curve: 'linear' },
      { axis: 'L', data: pairs(p5Lift), color: BLACK, width: 9, curve: 'linear' },
      { axis: 'L', data: uniform(p5LiftDashed), color: BLACK, width: 9, dash: '24 12', curve: 'linear' },
      { axis: 'R', data: pairs(p5DragDashed), color: RED, width: 8, dash: '30 12 8 12', curve: 'linear' },
    ],
  },
];

function Panel({ idx, cfg }: { idx: number; cfg: PanelCfg }) {
  const top = PANEL_TOPS[idx];
  const last = idx === PANEL_TOPS.length - 1;
  const mTop = 100;
  const mBottom = last ? 170 : 100;
  const h = mTop + 1 + PANEL_H + 1 + mBottom;
  return (
    <div style={{ position: 'absolute', left: 0, top: top - mTop - 1, width: W, height: h }}>
      <LineChart width={W} height={h} margin={{ top: mTop, bottom: mBottom, left: PLOT_L - 1, right: W - PLOT_R - 1 }}>
        <XAxis
          xAxisId="b" type="number" dataKey="t" domain={xDomain} allowDataOverflow ticks={xTicks} interval={0}
          height={1} tickSize={0} tickMargin={0} tickLine={false}
          axisLine={{ stroke: FRAME, strokeWidth: 8 }} tick={makeBottomTick(last)}
        />
        <XAxis
          xAxisId="t" orientation="top" type="number" dataKey="t" domain={xDomain} allowDataOverflow ticks={xTicks} interval={0}
          height={1} tickSize={0} tickMargin={0} tickLine={false}
          axisLine={{ stroke: FRAME, strokeWidth: 8 }} tick={TopTick}
        />
        <YAxis
          yAxisId="L" type="number" domain={cfg.leftDomain} allowDataOverflow ticks={cfg.leftTicks} interval={0}
          width={1} tickSize={0} tickMargin={0} tickLine={false}
          axisLine={{ stroke: BLACK, strokeWidth: 8 }} tick={makeLeftTick(cfg.leftTicks, cfg.leftLabels)}
        />
        <YAxis
          yAxisId="R" orientation="right" type="number" domain={cfg.rightDomain} allowDataOverflow ticks={cfg.rightTicks} interval={0}
          width={1} tickSize={0} tickMargin={0} tickLine={false}
          axisLine={{ stroke: RED, strokeWidth: 7 }} tick={makeRightTick(cfg.rightTicks, cfg.rightLabels)}
        />
        {cfg.refs.map((r, i) => (
          <ReferenceLine key={'r' + i} xAxisId="b" yAxisId={r.axis} y={r.y} stroke={r.color} strokeWidth={8} strokeDasharray="38 38" />
        ))}
        {cfg.series.map((s, i) => (
          <Line
            key={'s' + i}
            xAxisId="b"
            yAxisId={s.axis}
            data={s.data}
            dataKey="v"
            type={s.curve}
            stroke={s.color}
            strokeWidth={s.width}
            strokeDasharray={s.dash}
            dot={false}
            activeDot={false}
            isAnimationActive={false}
          />
        ))}
      </LineChart>
    </div>
  );
}

export default function App() {
  return (
    <div style={{ position: 'absolute', left: 0, top: 0, width: W, height: H, background: '#fff', overflow: 'hidden' }}>
      {panels.map((cfg, i) => (
        <Panel key={i} idx={i} cfg={cfg} />
      ))}
      <svg width={W} height={H} style={{ position: 'absolute', left: 0, top: 0, pointerEvents: 'none' }}>
        {alphaLabels.map((s, i) => (
          <text key={i} x={484} y={ALPHA_BASELINES[i]} fontFamily={ALPHA_FONT} fontStyle="italic" fontWeight="bold" fontSize={152} fill={BLACK}>
            {s}
          </text>
        ))}
        <text transform="translate(123,1356) rotate(-90)" fontFamily={LABEL_FONT} fontStyle="italic" fontWeight="bold" fontSize={117} fill={BLACK}>
          C<tspan dy={62} fontSize={93}>L</tspan>
        </text>
        <text transform="translate(3188,1362) rotate(-90)" fontFamily={LABEL_FONT} fontStyle="italic" fontWeight="bold" fontSize={117} fill={RED}>
          C<tspan dy={60} fontSize={93}>D</tspan>
        </text>
        <text x={1643} y={2763} textAnchor="middle" fontFamily={LABEL_FONT} fontStyle="italic" fontWeight="bold" fontSize={95} fill="#1a1a1a">
          t/s
        </text>
      </svg>
    </div>
  );
}
